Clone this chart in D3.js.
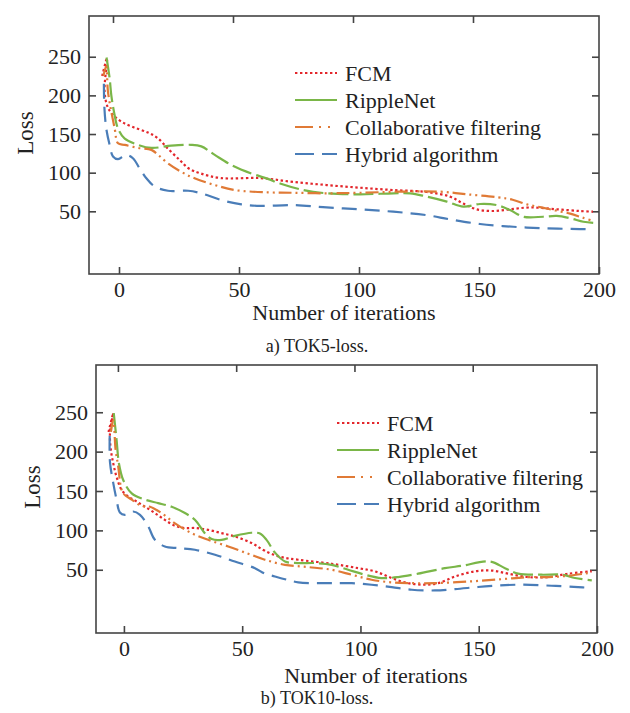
<!DOCTYPE html>
<html>
<head>
<meta charset="utf-8">
<script src="https://cdn.jsdelivr.net/npm/d3@7/dist/d3.min.js"></script>
<style>
  body { margin: 0; background: #fff; }
  svg text { font-family: "Liberation Serif", "Times New Roman", "DejaVu Serif", serif; fill: #222; }
</style>
</head>
<body>
<svg id="chart" width="630" height="713"></svg>
<script>
// ------- data: [iteration, loss] pairs --->
const seriesNames = ["FCM", "RippleNet", "Collaborative filtering", "Hybrid algorithm"];
const xTicks = [0, 50, 100, 150, 200];
const yTicks = [50, 100, 150, 200, 250];
const captions = ["a) TOK5-loss.", "b) TOK10-loss."];
const xTitle = "Number of iterations";
const yTitle = "Loss";

// a) TOK5
const fcmA = [[-7,225],[-5,248],[-6,205],[-4.6,184],[-2.5,175],[1,166],[5.8,159],[12,152],[16,145],[20.4,131],[25.4,116],[28.8,106],[34,99],[42.5,93],[58.8,93],[72.6,88],[86.5,84],[100.4,80.5],[114.2,77.5],[128.2,75],[137.9,69],[143.5,60],[149,52.6],[155.9,50.4],[162.9,52.6],[171.3,55],[182.4,52.6],[192,50.4],[197.5,49.5]];
const rippleA = [[-5.2,249],[-3.9,222],[-3.2,200],[-2.1,179],[-0.4,157],[2.4,144],[7.9,136],[13.5,132],[21.8,135],[30,136],[34.3,134],[39.9,123],[46.8,110],[55.1,99],[62,92],[67.1,86],[76.8,77.5],[86.5,73.3],[100.4,72],[114.3,73.3],[121.3,73.3],[128.2,69],[136.6,62.6],[143.5,56],[150.4,59.5],[157.4,58],[162.9,51.7],[168.5,43],[176.8,43],[182.4,44],[188,41],[193.5,36.5],[197.6,35]];
const collabA = [[-6.5,225],[-5.3,238],[-4.6,205],[-1.8,157],[-0.4,138],[2.4,136],[7.9,132],[13.5,129.5],[16.3,123],[20.4,112],[26,101],[31.5,92.7],[39.9,84],[48.2,77.5],[62,74.6],[72.6,74],[86.5,73.3],[100.4,74],[117,75.4],[133.7,75.4],[145,72],[158,68],[164,65],[170,59],[176,55],[182,51],[188,47],[193,42],[198,37]];
const hybridA = [[-6.3,215],[-6.1,185],[-5.3,157],[-3.9,136],[-2.5,121],[-0.4,117.6],[3,123],[5.8,118.6],[8.6,105.6],[11.4,92.7],[14.9,82],[20.4,76.6],[28.8,76.6],[34.3,73.3],[42.6,64.6],[51,59],[58.8,57],[72.6,58],[86.5,55],[100.4,52.6],[114.3,49.5],[128.2,45],[137.9,39.6],[150.4,33.6],[164.3,30],[178.3,28],[192,27],[197.6,26.7]];

// b) TOK10
const fcmB = [[-6.5,225],[-4.5,249],[-5.9,223],[-5.5,202],[-4.5,185],[-3.1,168],[-1,151.5],[1.8,143],[5.4,136.6],[8.9,130],[13.1,122],[17.3,113.4],[21.6,105.8],[25.8,102.9],[30,103],[35.6,100.7],[41.3,96.5],[46.9,92.3],[54,84],[59.6,74],[66.7,66],[73.7,62.7],[87.8,57.6],[99.1,52],[106.1,48],[113.2,39.5],[120.2,33],[127.3,31],[132.9,33],[140,41.5],[148.4,48],[155.5,49],[162.5,45],[171,40.7],[179.4,40.7],[187.9,45],[197.8,48]];
const rippleB = [[-4.3,249],[-3.1,215],[-2.1,185],[-0.3,164],[3.3,147],[8.9,139],[14.5,134.6],[20.2,130],[25.8,122],[30,113.4],[34.2,96.5],[37.1,89],[41.3,88],[46.9,93],[54,97],[57.5,96],[60.3,88],[63.8,72],[68.1,60.5],[73.7,58.5],[80.8,58.5],[87.8,56.3],[94.8,50],[101.9,43.7],[108.9,39.5],[116,40.7],[124.4,45],[135.7,52],[142.8,55],[154.8,60.5],[161.1,52],[166.7,45],[176.6,43.7],[185.1,43.7],[190.7,39.5],[197.8,36.5]];
const collabB = [[-5.5,225],[-4.5,240],[-3.5,202],[-2.4,181],[-1.3,155.6],[-0.3,147],[3.3,139],[7.5,131],[11,130],[15.9,122],[21.6,109],[28.6,96.5],[35.6,88],[44.1,79.6],[52.6,70.3],[59.6,62.7],[68.1,56.3],[77.9,53.4],[87.8,50],[96.3,43.7],[104.7,37.3],[113.2,34],[121.7,33],[131.5,33],[145.6,35],[159.7,38],[171,40.7],[179.4,40.7],[187.9,42.4],[196.3,45.8]];
const hybridB = [[-6,220],[-5.9,187],[-4.5,160],[-3.1,139],[-1.7,122.7],[0.4,119.8],[3.9,124],[6.8,119.8],[10.3,105],[13.1,88],[17.3,79.6],[23,77.5],[30,75.4],[38.5,69],[46.9,60.5],[55.4,52],[59.6,45],[63.8,41.5],[68.1,38],[73.7,34],[80.8,33],[87.8,33],[96.3,33],[104.7,31],[113.2,28],[121.7,24.6],[131.5,23.7],[140,25.5],[152.7,28.8],[166.7,31],[180.8,29.7],[192,28],[197.8,26.8]];

// ------- line looks, one per series --->
const colors = ["#e3262b", "#7ab648", "#e07a36", "#4a7db8"];
const plotDash = ["2.4,2.6", "20,5", "13,4,2,4,2,4", "15,8"];
const legendDash = ["2.4,2.6", null, "18,6,2,7,2,20", "19,8,15"];
const serif = "Liberation Serif, Times New Roman, DejaVu Serif, serif";

const svg = d3.select("#chart");

function drawPanel(cfg) {
  const g = svg.append("g");

  // -------- scales -------->
  const x = d3.scaleLinear().domain(cfg.xDomain).range([cfg.left, cfg.right]);
  const y = d3.scaleLinear().domain(cfg.yDomain).range([cfg.bottom, cfg.top]);

  // -------- frame -------->
  g.append("rect")
    .attr("x", cfg.left)
    .attr("y", cfg.top)
    .attr("width", cfg.right - cfg.left)
    .attr("height", cfg.bottom - cfg.top)
    .attr("fill", "none")
    .attr("stroke", "#444")
    .attr("stroke-width", 1.6);

  // -------- axes, ticks pointing inward -------->
  const bottomAxis = d3.axisBottom(x).tickValues(xTicks).tickSizeInner(-7).tickSizeOuter(0).tickPadding(7);
  const leftAxis = d3.axisLeft(y).tickValues(yTicks).tickSizeInner(-7).tickSizeOuter(0).tickPadding(8);

  const gb = g.append("g")
    .attr("transform", `translate(0,${cfg.bottom})`)
    .call(bottomAxis);
  const gl = g.append("g")
    .attr("transform", `translate(${cfg.left},0)`)
    .call(leftAxis);

  // top ticks sit a few px left of the bottom ones in the original
  const gt = g.append("g")
    .attr("transform", `translate(-6,${cfg.top})`)
    .call(d3.axisTop(x).tickValues(xTicks.slice(0, 4)).tickSizeInner(-7).tickSizeOuter(0).tickFormat(""));
  const gr = g.append("g")
    .attr("transform", `translate(${cfg.right},0)`)
    .call(d3.axisRight(y).tickValues(yTicks).tickSizeInner(-7).tickSizeOuter(0).tickFormat(""));

  [gb, gl, gt, gr].forEach(a => {
    a.attr("font-family", serif);
    a.select(".domain").remove();
    a.selectAll("line").attr("stroke", "#444").attr("stroke-width", 1.6);
    a.selectAll("text")
      .style("font-size", "22px")
      .style("font-family", serif)
      .attr("fill", "#222");
  });

  // -------- curves -------->
  const line = d3.line()
    .x(d => x(d[0]))
    .y(d => y(d[1]))
    .curve(d3.curveCatmullRom.alpha(0.5));

  cfg.series.forEach((s, i) => {
    g.append("path")
      .datum(s)
      .attr("d", line)
      .attr("fill", "none")
      .attr("stroke", colors[i])
      .attr("stroke-width", 2.2)
      .attr("stroke-dasharray", plotDash[i]);
  });

  // -------- legend -------->
  seriesNames.forEach((name, i) => {
    const ly = cfg.legendY + i * 27;
    g.append("line")
      .attr("x1", cfg.legendX)
      .attr("x2", cfg.legendX + 42)
      .attr("y1", ly)
      .attr("y2", ly)
      .attr("stroke", colors[i])
      .attr("stroke-width", 2.2)
      .attr("stroke-dasharray", legendDash[i]);
    g.append("text")
      .attr("x", cfg.legendX + 50)
      .attr("y", ly + 8)
      .style("font-family", serif)
      .style("font-size", "22px")
      .text(name);
  });

  // -------- titles -------->
  g.append("text")
    .attr("x", cfg.xTitleX)
    .attr("y", cfg.bottom + cfg.xTitleDy)
    .attr("text-anchor", "middle")
    .style("font-family", serif)
    .style("font-size", "22px")
    .text(xTitle);

  g.append("text")
    .attr("transform", `translate(${cfg.yTitleX},${(cfg.top + cfg.bottom) / 2 - 12}) rotate(-90)`)
    .attr("text-anchor", "middle")
    .style("font-family", serif)
    .style("font-size", "23px")
    .text(yTitle);

  g.append("text")
    .attr("x", 317)
    .attr("y", cfg.captionY)
    .attr("text-anchor", "middle")
    .style("font-family", serif)
    .style("font-size", "18px")
    .text(cfg.caption);
}

drawPanel({
  left: 89, right: 599, top: 16, bottom: 274,
  xDomain: [-12.5, 200], yDomain: [-31.1, 302.7],
  series: [fcmA, rippleA, collabA, hybridA],
  legendX: 295, legendY: 73,
  xTitleX: 344, xTitleDy: 46, yTitleX: 33,
  caption: captions[0], captionY: 352
});

drawPanel({
  left: 96, right: 597, top: 365, bottom: 633,
  xDomain: [-11.8, 200], yDomain: [-30.3, 310],
  series: [fcmB, rippleB, collabB, hybridB],
  legendX: 337, legendY: 423,
  xTitleX: 376, xTitleDy: 50, yTitleX: 40,
  caption: captions[1], captionY: 704
});
</script>
</body>
</html>
